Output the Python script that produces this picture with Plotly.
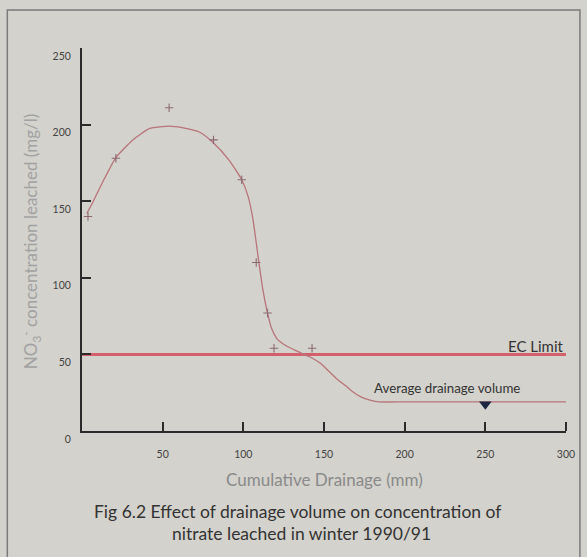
import plotly.graph_objects as go

# Measured data points (plus markers)
pts_x = [3.7, 21, 54, 81.5, 99, 108, 115, 119, 142.6]
pts_y = [140, 178, 211, 190, 164, 110, 77, 54, 54]

# Fitted curve
curve_x = [3, 7, 14, 21, 31.5, 42, 54, 62, 73, 81.5, 91, 99, 103, 106, 109, 112, 115, 117.5, 121, 126, 132.5, 142, 148, 153, 158, 163.5, 168, 173.5, 179, 184, 200, 230, 260, 300]
curve_y = [142, 150, 165, 178.5, 190, 197.5, 199, 198, 195, 188, 177, 164, 153, 138, 115, 93, 77, 67, 60, 56, 52.5, 48, 44, 39, 34, 29.5, 25.5, 22, 20, 19, 19, 19, 19, 19]

ec_x = [0, 300]
ec_y = [50, 50]
ec_label = "EC Limit"

avg_x = [250]
avg_y = [17.5]
avg_label = "Average drainage volume"

x_ticks = [50, 100, 150, 200, 250, 300]
y_ticks = [0, 50, 100, 150, 200, 250]

BG = "#d3d2cc"
AX = "#2b2b2b"
FONT = "Lato"
TOP, BOT = 48, 431

fig = go.Figure()
fig.add_trace(go.Scatter(x=ec_x, y=ec_y, mode="lines",
                         line=dict(color="#d4606c", width=3), hoverinfo="skip"))
fig.add_trace(go.Scatter(x=curve_x, y=curve_y, mode="lines",
                         line=dict(color="#b8747a", width=1.3, shape="spline", smoothing=0.5)))
fig.add_trace(go.Scatter(x=pts_x, y=pts_y, mode="markers",
                         marker=dict(symbol="cross-thin", size=6,
                                     line=dict(color="#8a6a70", width=1.1))))
fig.add_trace(go.Scatter(x=avg_x, y=avg_y, mode="markers", xaxis="x2",
                         marker=dict(symbol="triangle-down", size=11, color="#1c2640")))

fig.update_layout(
    width=587, height=557,
    margin=dict(l=82, r=19, t=TOP, b=557 - BOT),
    paper_bgcolor=BG, plot_bgcolor=BG,
    showlegend=False,
    font=dict(family=FONT, color="#444"),
    xaxis=dict(range=[0, 300], tickvals=x_ticks, ticks="inside", ticklen=9, tickwidth=2,
               tickcolor=AX, showline=True, linecolor=AX, linewidth=2, showgrid=False,
               zeroline=False, tickfont=dict(size=10.5, color="#444"), ticklabelstandoff=12),
    # duplicate axis whose "outside" ticks point up into the plot, so the tick marks show
    xaxis2=dict(range=[0, 300], tickvals=x_ticks, ticks="outside", ticklen=9, tickwidth=2,
                tickcolor=AX, overlaying="x", side="top", anchor="free", position=0,
                showline=False, showgrid=False, zeroline=False, showticklabels=False),
    yaxis=dict(range=[0, 250], tickvals=y_ticks, ticks="inside", ticklen=9, tickwidth=2,
               tickcolor=AX, showline=True, linecolor=AX, linewidth=2, showgrid=False,
               zeroline=False, tickfont=dict(size=10.5, color="#444"), ticklabelstandoff=7,
               ticklabelshift=8),
)

def px(xp):
    return (xp - 82) / 486

def py(yp):
    return (BOT - yp) / (BOT - TOP)

ann = [
    dict(text="NO<sub>3</sub><sup>-</sup> concentration leached (mg/l)", x=px(31), y=py(242),
         textangle=-90, font=dict(size=17, color="#a2a2a2")),
    dict(text="Cumulative Drainage (mm)", x=px(325), y=py(479),
         font=dict(size=17, color="#8a8a8a")),
    dict(text="Fig 6.2 Effect of drainage volume on concentration of", x=px(298), y=py(511),
         font=dict(size=17.5, color="#333")),
    dict(text="nitrate leached in winter 1990/91", x=px(302), y=py(533),
         font=dict(size=17.5, color="#333")),
]
for a in ann:
    fig.add_annotation(xref="paper", yref="paper", showarrow=False,
                       xanchor="center", yanchor="middle", **a)

fig.add_annotation(x=300, y=50, xref="x", yref="y", text=ec_label, showarrow=False,
                   xanchor="right", yanchor="bottom", yshift=-3,
                   font=dict(size=15, color="#333"))
fig.add_annotation(x=226, y=28, xref="x", yref="y", text=avg_label, showarrow=False,
                   xanchor="center", yanchor="middle",
                   font=dict(size=13.3, color="#333"))

fig.add_shape(type="rect", xref="paper", yref="paper",
              x0=px(7), x1=px(582), y0=py(565), y1=py(10),
              line=dict(color="#7a7a7a", width=1.5), layer="below")

fig.write_html("out.html")
